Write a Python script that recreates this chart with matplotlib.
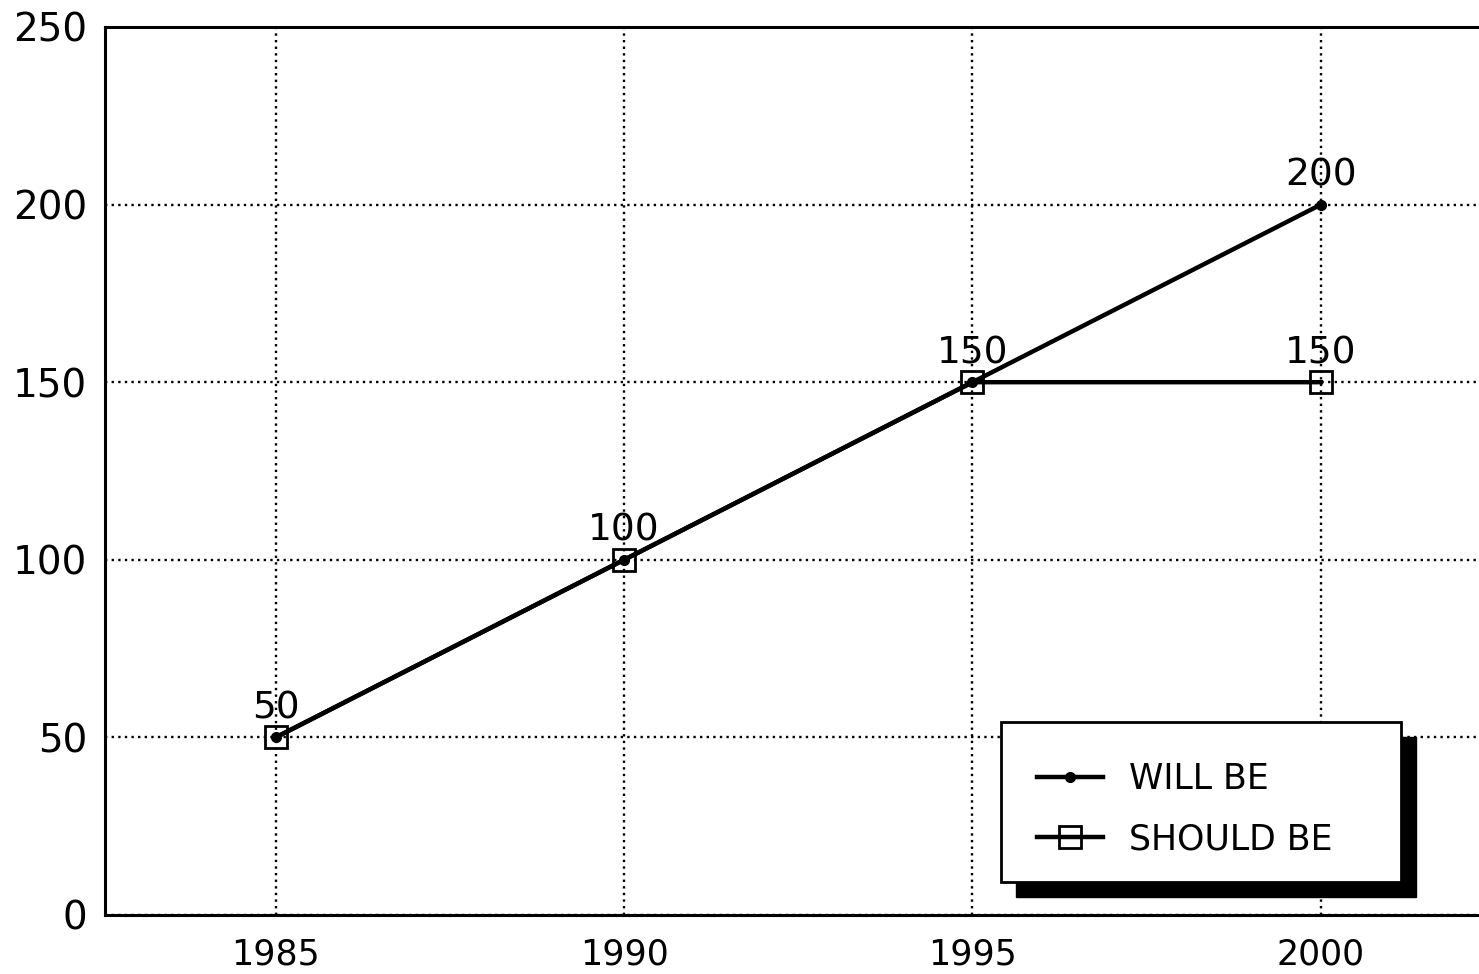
import matplotlib
matplotlib.use('Agg')
import matplotlib.pyplot as plt
from matplotlib.patches import Rectangle

years = [1985, 1990, 1995, 2000]
will_be = [50, 100, 150, 200]
should_be = [50, 100, 150, 150]
y_ticks = [0, 50, 100, 150, 200, 250]

plt.rcParams['font.family'] = 'DejaVu Sans'

fig = plt.figure(figsize=(14.79, 9.74), dpi=100)
ax = fig.add_axes([105 / 1479, 59 / 974, 1 - 105 / 1479, (915 - 27) / 974])

ax.plot(years, should_be, color='black', linewidth=3.2, marker='s', markersize=16,
        markerfacecolor='none', markeredgecolor='black', markeredgewidth=2,
        label='SHOULD BE', zorder=3)
ax.plot(years, will_be, color='black', linewidth=3.2, marker='o', markersize=7,
        label='WILL BE', zorder=4)

# value labels
for x, y in zip(years, will_be):
    ax.annotate(str(y), (x, y), xytext=(0, 8), textcoords='offset points',
                ha='center', va='bottom', fontsize=27)
ax.annotate(str(should_be[-1]), (years[-1], should_be[-1]), xytext=(0, 8),
            textcoords='offset points', ha='center', va='bottom', fontsize=27)

ax.set_xlim(1982.55, 2002.27)
ax.set_ylim(0, 250)
ax.set_xticks(years)
ax.set_yticks(y_ticks)
ax.tick_params(length=0)
ax.tick_params(axis='x', pad=16, labelsize=25)
ax.tick_params(axis='y', pad=13, labelsize=28)

ax.grid(True, color='black', linestyle=(0, (1, 1.8)), linewidth=1.7)
ax.set_axisbelow(True)
for s in ['left', 'bottom', 'top']:
    ax.spines[s].set_linewidth(2.2)
ax.spines['right'].set_visible(False)

# legend box with solid shadow
x0, x1 = 1001 / 1479, 1401 / 1479
y0, y1 = 1 - 882 / 974, 1 - 722 / 974
dx, dy = 15 / 1479, 15 / 974
fig.patches.append(Rectangle((x0 + dx, y0 - dy), x1 - x0, y1 - y0, transform=fig.transFigure,
                             facecolor='black', edgecolor='black', zorder=5))
fig.patches.append(Rectangle((x0, y0), x1 - x0, y1 - y0, transform=fig.transFigure,
                             facecolor='white', edgecolor='black', linewidth=2, zorder=6))
handles, labels = ax.get_legend_handles_labels()
leg = fig.legend(handles[::-1], labels[::-1], loc='upper left',
                 bbox_to_anchor=(1006 / 1479, 1 - 731 / 974), frameon=False,
                 fontsize=25, handlelength=1.9, handletextpad=0.75, labelspacing=0.75,
                 markerscale=1.0)
leg.set_zorder(7)

fig.savefig('out.png', dpi=100)
